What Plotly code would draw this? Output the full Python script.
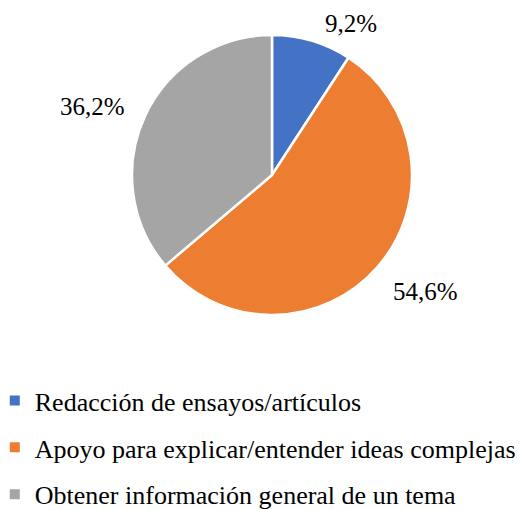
import math
import plotly.graph_objects as go

labels = [
    "Redacción de ensayos/artículos",
    "Apoyo para explicar/entender ideas complejas",
    "Obtener información general de un tema",
]
values = [9.2, 54.6, 36.2]
colors = ["#4472C4", "#ED7D31", "#A5A5A5"]

W, H = 522, 510
FONT = "Times New Roman"

# pie placement in pixels
cx, cy, r = 272, 175, 140
dom_x = [(cx - r) / W, (cx + r) / W]
dom_y = [(H - cy - r) / H, (H - cy + r) / H]

# small pixel nudges for the outside labels (best-fit look)
label_nudge = [(8, -8), (7, -2), (-9, 6)]

fig = go.Figure()
fig.add_trace(go.Pie(
    labels=labels,
    values=values,
    sort=False,
    direction="clockwise",
    rotation=0,
    marker=dict(colors=colors, line=dict(color="#FFFFFF", width=2.5)),
    textinfo="none",
    textposition="none",
    hoverinfo="label+percent",
    showlegend=False,
    domain=dict(x=dom_x, y=dom_y),
))

# legend entries as dummy traces so the row spacing can be controlled
for lab, col in zip(labels, colors):
    fig.add_trace(go.Scatter(
        x=[None], y=[None], mode="markers", name=lab,
        marker=dict(symbol="square", size=10, color=col),
        legendgroup=lab,
    ))

# percentage labels outside the slices
total = sum(values)
cum = 0
annotations = []
for v, (nx, ny) in zip(values, label_nudge):
    mid = (cum + v / 2) / total * 2 * math.pi
    cum += v
    s, c = math.sin(mid), math.cos(mid)
    d = r * 1.07
    px_ = cx + d * s
    py_ = cy - d * c
    xa = "left" if s > 0.2 else ("right" if s < -0.2 else "center")
    ya = "bottom" if c > 0.5 else ("top" if c < -0.5 else "middle")
    annotations.append(dict(
        x=px_ / W, y=(H - py_) / H, xref="paper", yref="paper",
        xshift=nx, yshift=ny,
        text=f"{v:.1f}%".replace(".", ","), showarrow=False,
        xanchor=xa, yanchor=ya,
        font=dict(family=FONT, size=25, color="#000000"),
    ))

fig.update_layout(
    width=W, height=H,
    margin=dict(l=0, r=0, t=0, b=0, autoexpand=False),
    paper_bgcolor="white",
    plot_bgcolor="white",
    font=dict(family=FONT),
    annotations=annotations,
    xaxis=dict(visible=False),
    yaxis=dict(visible=False),
    legend=dict(
        x=-0.01, y=-0.016, xanchor="left", yanchor="bottom",
        font=dict(family=FONT, size=26, color="#000000"),
        tracegroupgap=10,
        traceorder="grouped",
        itemclick=False, itemdoubleclick=False,
    ),
)

fig.write_html(
    "out.html",
    config={"displayModeBar": False},
    post_script="document.body.style.margin='0';",
)
